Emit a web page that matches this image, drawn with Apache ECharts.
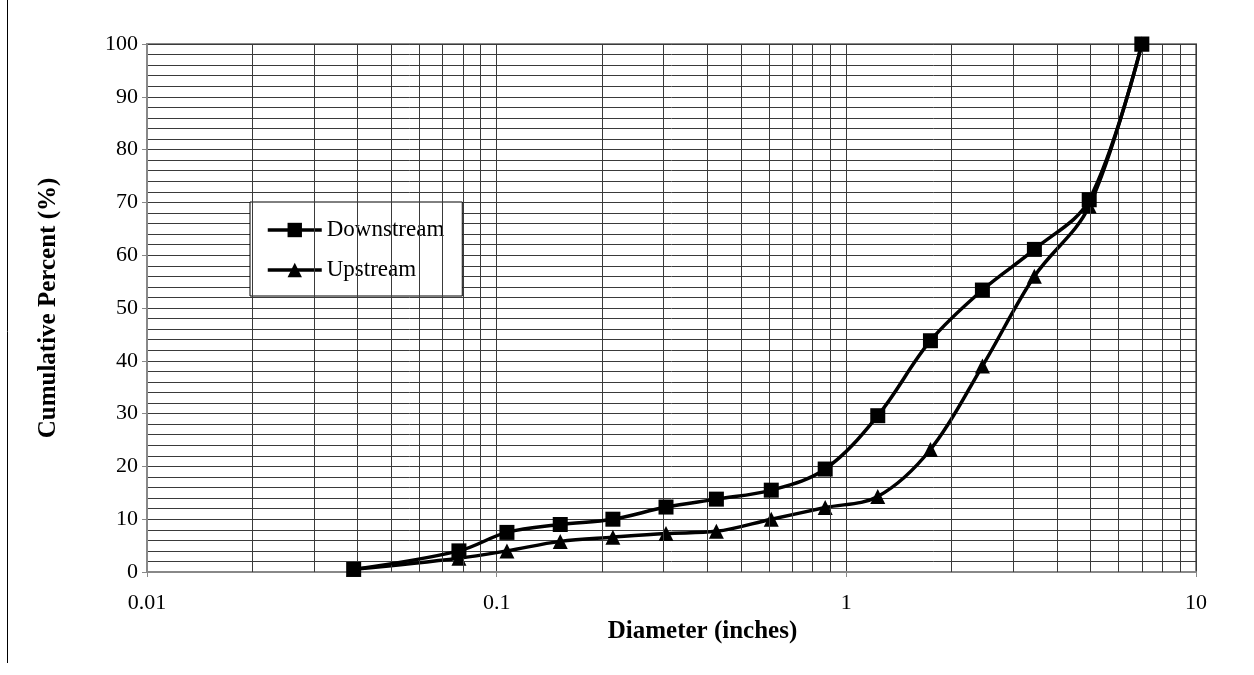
<!DOCTYPE html>
<html>
<head>
<meta charset="utf-8">
<script src="https://cdn.jsdelivr.net/npm/echarts@6/dist/echarts.min.js"></script>
<style>html,body{margin:0;padding:0;background:#fff;}#c{width:1254px;height:675px;}</style>
</head>
<body>
<div id="c"></div>
<script>
// Data
const downstreamDiameter = [0.039, 0.078, 0.107, 0.152, 0.215, 0.305, 0.425, 0.61, 0.87, 1.23, 1.74, 2.45, 3.45, 4.95, 7.0];
const downstreamPercent  = [0.5, 4.0, 7.5, 9.0, 10.0, 12.3, 13.8, 15.5, 19.5, 29.6, 43.8, 53.4, 61.1, 70.5, 100];
const upstreamDiameter   = [0.039, 0.078, 0.107, 0.152, 0.215, 0.305, 0.425, 0.61, 0.87, 1.23, 1.74, 2.45, 3.45, 4.95, 7.0];
const upstreamPercent    = [0.5, 2.6, 4.0, 5.8, 6.6, 7.3, 7.7, 10.0, 12.2, 14.3, 23.2, 39.0, 56.0, 69.3, 100];
const xDecades = [0.01, 0.1, 1];
const xMinorMultipliers = [2, 3, 4, 5, 6, 7, 8, 9];
const xAxisTitle = 'Diameter (inches)';
const yAxisTitle = 'Cumulative Percent (%)';
const seriesNames = ['Downstream', 'Upstream'];

const font = 'Liberation Serif';
const gridColor = '#3a3a3a';

const minorGrid = [];
xDecades.forEach(d => xMinorMultipliers.forEach(m => minorGrid.push({ xAxis: +(d * m).toPrecision(3) })));

const chart = echarts.init(document.getElementById('c'));
chart.setOption({
  animation: false,
  backgroundColor: '#fff',
  textStyle: { fontFamily: font, color: '#000' },
  grid: { left: 147, right: 58, top: 44, bottom: 103, show: true, borderColor: '#888', borderWidth: 2, backgroundColor: 'transparent' },
  graphic: [{ type: 'line', shape: { x1: 7.5, y1: 0, x2: 7.5, y2: 663 }, style: { stroke: '#000', lineWidth: 1 } }],
  legend: {
    data: seriesNames,
    orient: 'vertical',
    left: 250, top: 202,
    padding: [16, 18, 14, 16],
    itemGap: 16,
    itemWidth: 54, itemHeight: 18,
    backgroundColor: '#fff',
    borderColor: '#000', borderWidth: 1,
    lineStyle: { width: 3.5, color: '#000' },
    textStyle: { fontFamily: font, fontSize: 23, color: '#000', lineHeight: 24 }
  },
  xAxis: {
    type: 'log', logBase: 10, min: 0.01, max: 10,
    name: xAxisTitle, nameLocation: 'middle', nameGap: 46,
    nameTextStyle: { fontFamily: font, fontSize: 25, fontWeight: 'bold', color: '#000', padding: [0, 0, 0, 62] },
    axisLine: { show: true, lineStyle: { color: '#888', width: 2 } },
    axisTick: { show: true, length: 5, lineStyle: { color: '#888' } },
    axisLabel: { fontFamily: font, fontSize: 22, color: '#000', margin: 20, formatter: v => String(v) },
    splitLine: { show: true, lineStyle: { color: gridColor, width: 1 } }
  },
  yAxis: {
    type: 'value', min: 0, max: 100, interval: 10,
    name: yAxisTitle, nameLocation: 'middle', nameGap: 86,
    nameTextStyle: { fontFamily: font, fontSize: 25, fontWeight: 'bold', color: '#000' },
    axisLine: { show: true, lineStyle: { color: '#888', width: 2 } },
    axisTick: { show: true, length: 5, lineStyle: { color: '#888' } },
    axisLabel: { fontFamily: font, fontSize: 22, color: '#000', margin: 9 },
    splitLine: { show: true, lineStyle: { color: gridColor, width: 1 } },
    minorTick: { show: false, splitNumber: 5 },
    minorSplitLine: { show: true, lineStyle: { color: gridColor, width: 1 } }
  },
  series: [
    {
      name: 'grid-minor', type: 'line', data: [], silent: true, z: 1,
      markLine: { silent: true, symbol: 'none', label: { show: false }, animation: false,
        lineStyle: { color: gridColor, width: 1, type: 'solid' }, data: minorGrid }
    },
    {
      name: seriesNames[0], type: 'line', z: 5,
      data: downstreamDiameter.map((x, i) => [x, downstreamPercent[i]]),
      smooth: 0.35, symbol: 'rect', symbolSize: 15,
      lineStyle: { color: '#000', width: 3.5 }, itemStyle: { color: '#000' }
    },
    {
      name: seriesNames[1], type: 'line', z: 4,
      data: upstreamDiameter.map((x, i) => [x, upstreamPercent[i]]),
      smooth: 0.35, symbol: 'triangle', symbolSize: 15,
      lineStyle: { color: '#000', width: 3.5 }, itemStyle: { color: '#000' }
    }
  ]
});
</script>
</body>
</html>
